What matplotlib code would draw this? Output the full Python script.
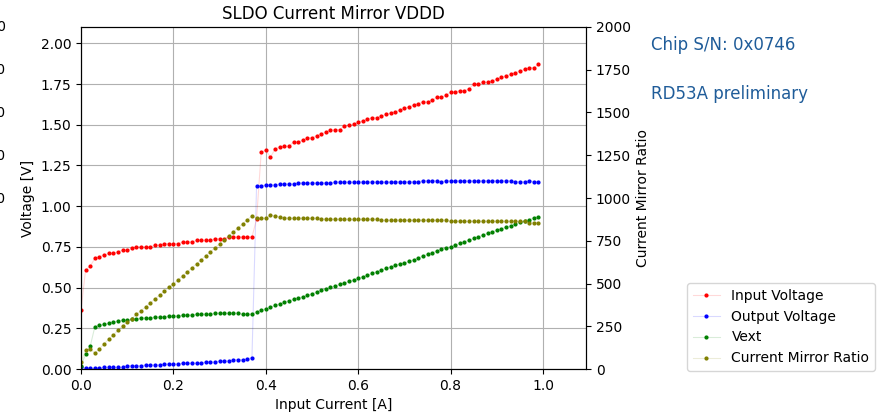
import numpy as np
import matplotlib
matplotlib.use("Agg")
import matplotlib.pyplot as plt

# input current [A]
current = [0.00, 0.01, 0.02, 0.03, 0.04, 0.05, 0.06, 0.07, 0.08, 0.09,
           0.10, 0.11, 0.12, 0.13, 0.14, 0.15, 0.16, 0.17, 0.18, 0.19,
           0.20, 0.21, 0.22, 0.23, 0.24, 0.25, 0.26, 0.27, 0.28, 0.29,
           0.30, 0.31, 0.32, 0.33, 0.34, 0.35, 0.36, 0.37, 0.38, 0.39,
           0.40, 0.41, 0.42, 0.43, 0.44, 0.45, 0.46, 0.47, 0.48, 0.49,
           0.50, 0.51, 0.52, 0.53, 0.54, 0.55, 0.56, 0.57, 0.58, 0.59,
           0.60, 0.61, 0.62, 0.63, 0.64, 0.65, 0.66, 0.67, 0.68, 0.69,
           0.70, 0.71, 0.72, 0.73, 0.74, 0.75, 0.76, 0.77, 0.78, 0.79,
           0.80, 0.81, 0.82, 0.83, 0.84, 0.85, 0.86, 0.87, 0.88, 0.89,
           0.90, 0.91, 0.92, 0.93, 0.94, 0.95, 0.96, 0.97, 0.98, 0.99]

v_in = [0.36, 0.61, 0.63, 0.68, 0.69, 0.70, 0.71, 0.71, 0.72, 0.73,
        0.73, 0.74, 0.75, 0.75, 0.75, 0.75, 0.76, 0.76, 0.77, 0.77,
        0.77, 0.77, 0.78, 0.78, 0.78, 0.79, 0.79, 0.79, 0.79, 0.80,
        0.80, 0.80, 0.81, 0.81, 0.81, 0.81, 0.81, 0.81, 0.92, 1.33,
        1.345, 1.30, 1.35, 1.365, 1.367, 1.367, 1.394, 1.394, 1.404, 1.42,
        1.42, 1.433, 1.445, 1.455, 1.466, 1.47, 1.47, 1.492, 1.496, 1.504,
        1.515, 1.523, 1.535, 1.543, 1.543, 1.553, 1.564, 1.57, 1.58, 1.59,
        1.60, 1.61, 1.62, 1.63, 1.64, 1.64, 1.65, 1.67, 1.67, 1.68,
        1.70, 1.70, 1.71, 1.71, 1.72, 1.75, 1.75, 1.76, 1.76, 1.77,
        1.78, 1.79, 1.80, 1.81, 1.82, 1.83, 1.84, 1.85, 1.85, 1.87]

v_out = [0.01, 0.005, 0.005, 0.005, 0.005, 0.01, 0.01, 0.01, 0.01, 0.01,
         0.02, 0.02, 0.02, 0.02, 0.025, 0.025, 0.025, 0.025, 0.03, 0.03,
         0.03, 0.03, 0.035, 0.035, 0.035, 0.035, 0.035, 0.043, 0.043, 0.043,
         0.049, 0.049, 0.049, 0.057, 0.057, 0.057, 0.063, 0.07, 1.124, 1.124,
         1.13, 1.13, 1.13, 1.136, 1.136, 1.136, 1.136, 1.142, 1.142, 1.142,
         1.142, 1.142, 1.142, 1.142, 1.142, 1.148, 1.148, 1.148, 1.148, 1.148,
         1.148, 1.148, 1.148, 1.148, 1.148, 1.148, 1.148, 1.148, 1.150, 1.150,
         1.150, 1.150, 1.150, 1.150, 1.156, 1.156, 1.156, 1.156, 1.150, 1.156,
         1.156, 1.156, 1.156, 1.156, 1.156, 1.156, 1.156, 1.156, 1.156, 1.156,
         1.156, 1.156, 1.156, 1.156, 1.150, 1.150, 1.150, 1.156, 1.150, 1.150]

v_ext = [0.02, 0.09, 0.14, 0.26, 0.268, 0.274, 0.28, 0.288, 0.295, 0.30,
         0.30, 0.307, 0.307, 0.313, 0.313, 0.313, 0.319, 0.319, 0.319, 0.325,
         0.325, 0.325, 0.33, 0.33, 0.33, 0.336, 0.336, 0.336, 0.336, 0.342,
         0.342, 0.342, 0.342, 0.342, 0.342, 0.336, 0.336, 0.336, 0.352, 0.362,
         0.370, 0.38, 0.39, 0.40, 0.41, 0.42, 0.428, 0.436, 0.444, 0.452,
         0.462, 0.473, 0.483, 0.493, 0.502, 0.51, 0.52, 0.528, 0.538, 0.546,
         0.557, 0.567, 0.577, 0.587, 0.598, 0.608, 0.618, 0.628, 0.636, 0.645,
         0.651, 0.661, 0.671, 0.682, 0.694, 0.704, 0.714, 0.725, 0.735, 0.745,
         0.751, 0.761, 0.772, 0.782, 0.792, 0.802, 0.812, 0.823, 0.833, 0.843,
         0.851, 0.862, 0.872, 0.880, 0.89, 0.90, 0.909, 0.917, 0.929, 0.935]

mirror_ratio = [40, 110, 118, 92, 119, 146, 175, 199, 226, 253,
                275, 294, 320, 341, 364, 386, 409, 433, 454, 478,
                497, 521, 545, 568, 592, 615, 638, 662, 685, 709,
                732, 756, 779, 803, 826, 850, 873, 896, 881, 881,
                881, 900, 895, 889, 885, 881, 881, 881, 881, 881,
                881, 881, 875, 875, 875, 875, 875, 875, 875, 875,
                875, 875, 875, 875, 875, 869, 869, 869, 870, 870,
                870, 870, 870, 870, 870, 870, 870, 870, 870, 870,
                863, 863, 863, 863, 863, 863, 863, 863, 863, 863,
                863, 863, 863, 863, 863, 863, 863, 855, 855, 855]

edge_labels = ["2000", "1750", "1500", "1250", "1000"]


def dotted(ax, x, y, col, rgb, label):
    # faint connecting line, solid dots
    return ax.plot(x, y, marker='.', markersize=4, linewidth=0.8,
                   color=rgb + (0.15,), markerfacecolor=col,
                   markeredgecolor=col, label=label)


fig = plt.figure(figsize=(8.79, 4.15), dpi=100)
ax1 = fig.add_axes([81 / 879, 46 / 415, 505 / 879, 342 / 415])

dotted(ax1, current, v_in, 'red', (1.0, 0.0, 0.0), 'Input Voltage')
dotted(ax1, current, v_out, 'blue', (0.0, 0.0, 1.0), 'Output Voltage')
dotted(ax1, current, v_ext, 'green', (0.0, 0.5, 0.0), 'Vext')
ax1.set_xlim(0, 1.093)
ax1.set_ylim(0, 2.1)
ax1.set_yticks(np.arange(0, 2.01, 0.25))
ax1.set_xlabel("Input Current [A]")
ax1.set_ylabel("Voltage [V]")
ax1.grid(True)
ax1.set_title("SLDO Current Mirror VDDD")

ax2 = ax1.twinx()
dotted(ax2, current, mirror_ratio, 'olive', (0.5, 0.5, 0.0), 'Current Mirror Ratio')
ax2.set_ylim(0, 2000)
ax2.set_yticks(np.arange(0, 2001, 250))
ax2.set_ylabel("Current Mirror Ratio")

lines1, labels1 = ax1.get_legend_handles_labels()
lines2, labels2 = ax2.get_legend_handles_labels()
fig.legend(lines1 + lines2, labels1 + labels2, loc="upper left",
           bbox_to_anchor=(687 / 879, 1 - 283 / 415), borderaxespad=0)

fig.text(651 / 879, 1 - 45 / 415, "Chip S/N: 0x0746", color='#1f5c99',
         fontsize=12, va='center')
fig.text(651 / 879, 1 - 94 / 415, "RD53A preliminary", color='#1f5c99',
         fontsize=12, va='center')

# tick labels of a neighbouring axis, cut off at the left border
for i, lab in enumerate(edge_labels):
    fig.text(6 / 879, 1 - (27 + 43 * i) / 415, lab, ha='right', va='center')

fig.savefig("out.png", dpi=100)
